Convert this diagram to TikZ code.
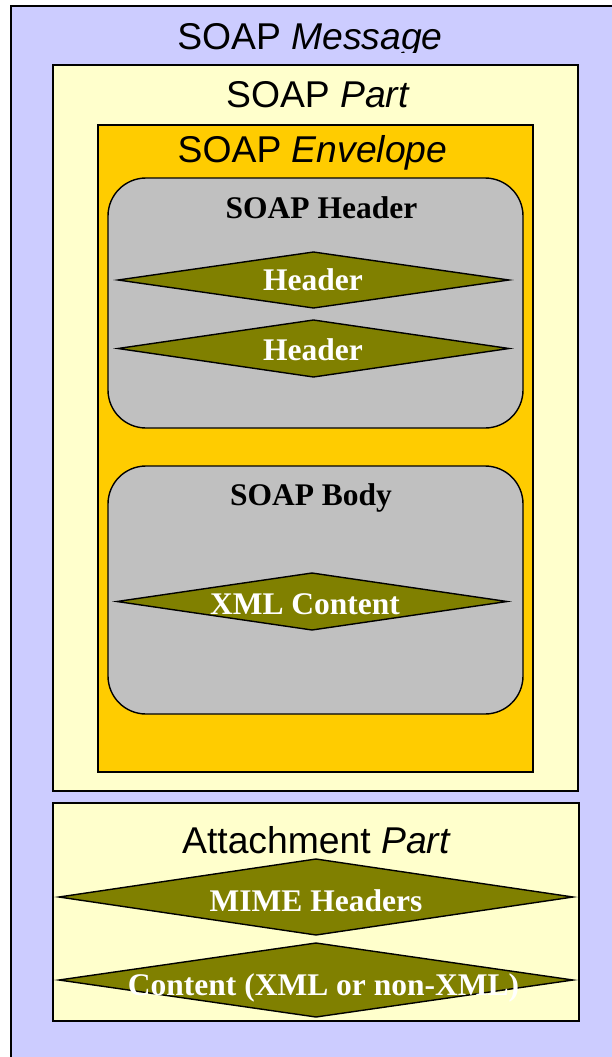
\documentclass[tikz,border=0pt]{standalone}
\usepackage{fontspec}
\setmainfont{Liberation Serif}
\setsansfont{Liberation Sans}
\usetikzlibrary{shapes.geometric}

\definecolor{msgfill}{HTML}{CCCCFF}
\definecolor{partfill}{HTML}{FFFFCC}
\definecolor{envfill}{HTML}{FFCC00}
\definecolor{grpfill}{HTML}{C0C0C0}
\definecolor{tagfill}{HTML}{808000}

\tikzset{
  frame/.style={draw=black, line width=1.4pt, rectangle, inner sep=0pt, outer sep=0pt},
  partbox/.style={frame, fill=partfill},
  envbox/.style={frame, fill=envfill},
  grpbox/.style={frame, fill=grpfill, rounded corners=38pt},
  tagshape/.style={diamond, draw=black, line width=1.4pt, fill=tagfill, inner sep=0pt, outer sep=0pt},
  captxt/.style={anchor=base, inner sep=0pt, font=\sffamily\fontsize{37.3}{40}\selectfont},
  grptxt/.style={anchor=base, inner sep=0pt, font=\rmfamily\bfseries\fontsize{31.5}{35}\selectfont},
  tagtxt/.style={grptxt, text=white},
}

\begin{document}
\begin{tikzpicture}[x=1pt, y=-1pt]
  \useasboundingbox (0,0) rectangle (612,1057);
  \clip (0,0) rectangle (612,1057);

  % the whole message
  \fill[white] (0,0) rectangle (612,1057);
  \draw[line width=1.4pt, fill=msgfill] (11,6) rectangle (640,1080);
  \begin{scope}
    \clip (11,6) rectangle (612,53);
    \node[captxt] (msgcap) at (310,49) {SOAP \textit{Message}};
  \end{scope}

  % SOAP part and its envelope
  \node[partbox, minimum width=525pt, minimum height=726pt] (soappart) at (315.5,428) {};
  \node[captxt] (partcap) at (318,107) {SOAP \textit{Part}};
  \node[envbox, minimum width=435pt, minimum height=647pt] (envelope) at (315.5,448.5) {};
  \node[captxt] (envcap) at (312.5,162) {SOAP \textit{Envelope}};

  % header block
  \node[grpbox, minimum width=415pt, minimum height=250pt] (hdrgrp) at (315.5,303) {};
  \node[grptxt] (hdrcap) at (321.5,218) {SOAP Header};
  \node[tagshape, minimum width=391pt, minimum height=56pt] (hdrA) at (313.5,280) {};
  \node[tagtxt] (hdrAtxt) at (313,290) {Header};
  \node[tagshape, minimum width=391pt, minimum height=57pt] (hdrB) at (313.5,348.5) {};
  \node[tagtxt] (hdrBtxt) at (313,360) {Header};

  % body block
  \node[grpbox, minimum width=415pt, minimum height=248pt] (bodygrp) at (315.5,590) {};
  \node[grptxt] (bodycap) at (311,505) {SOAP Body};
  \node[tagshape, minimum width=390pt, minimum height=57pt] (xmltag) at (312,601.5) {};
  \node[tagtxt] (xmltxt) at (305,614) {XML Content};

  % attachment part
  \node[partbox, minimum width=526pt, minimum height=218pt] (attach) at (316,912) {};
  \node[captxt] (attcap) at (316.5,853) {Attachment \textit{Part}};
  \node[tagshape, minimum width=514pt, minimum height=76pt] (mimetag) at (316,897) {};
  \node[tagtxt] (mimetxt) at (316,911.7) {MIME Headers};
  \node[tagshape, minimum width=514pt, minimum height=74pt] (contag) at (316,980) {};
  \node[tagtxt] (contxt) at (323.5,995) {Content (XML or non-XML)};
\end{tikzpicture}
\end{document}
